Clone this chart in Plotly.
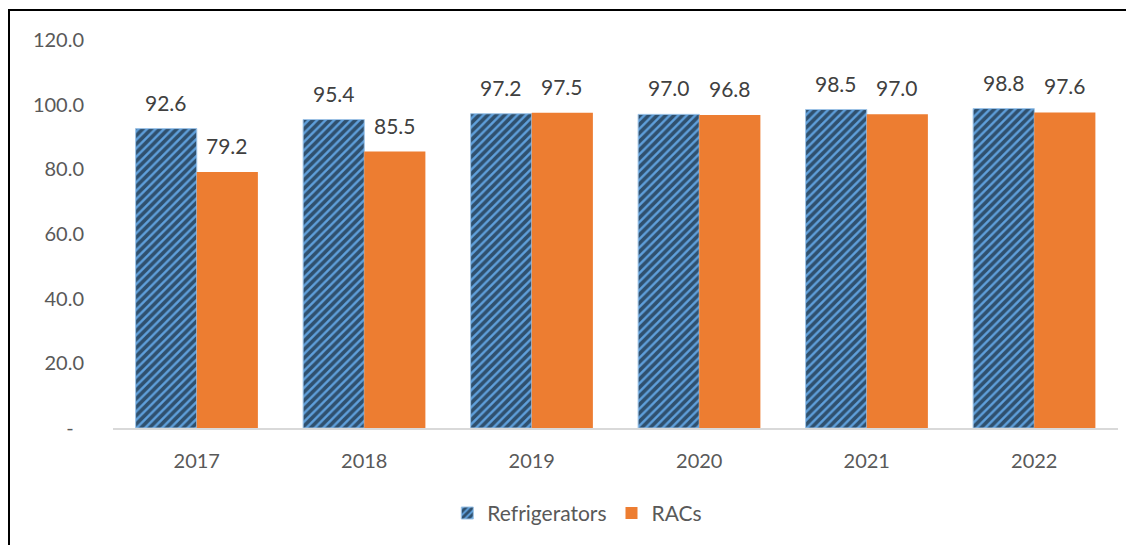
import plotly.graph_objects as go

years = ["2017", "2018", "2019", "2020", "2021", "2022"]
refrigerators = [92.6, 95.4, 97.2, 97.0, 98.5, 98.8]
racs = [79.2, 85.5, 97.5, 96.8, 97.0, 97.6]
tick_vals = [0, 20, 40, 60, 80, 100, 120]
tick_text = ["-\u00a0\u00a0", "20.0", "40.0", "60.0", "80.0", "100.0", "120.0"]

font_family = "Lato, Open Sans, sans-serif"
gray = "#595959"
label_color = "#404040"

L, T, PW, PH = 105, 32, 1005, 388
W, H = 1134, 545

fig = go.Figure()
fig.add_trace(go.Bar(
    x=years, y=refrigerators, name="Refrigerators",
    marker=dict(color="#5B9BD5",
                pattern=dict(shape="/", fgcolor="#000000", bgcolor="#5FA0DC",
                             size=6, solidity=0.6, fillmode="overlay"),
                line=dict(color="#9DC3E6", width=1)),
))
fig.add_trace(go.Bar(
    x=years, y=racs, name="RACs",
    marker=dict(color="#ED7D31", line=dict(width=0)),
))

bar_half = 30.6
annotations = []
for i, v in enumerate(refrigerators):
    annotations.append(dict(x=i, y=v, xref="x", yref="y", text=f"{v:.1f}", showarrow=False,
                            xshift=-bar_half, yshift=12, yanchor="bottom",
                            font=dict(size=21, color=label_color, family=font_family)))
for i, v in enumerate(racs):
    annotations.append(dict(x=i, y=v, xref="x", yref="y", text=f"{v:.1f}", showarrow=False,
                            xshift=bar_half, yshift=12, yanchor="bottom",
                            font=dict(size=21, color=label_color, family=font_family)))

fig.update_layout(
    width=W, height=H,
    margin=dict(l=L, r=W - L - PW, t=T, b=H - T - PH),
    paper_bgcolor="white", plot_bgcolor="white",
    barmode="group", bargap=0.27, bargroupgap=0,
    font=dict(family=font_family, color=gray, size=20),
    showlegend=True,
    legend=dict(orientation="h", x=0.462, xanchor="center", y=-0.22, yanchor="middle",
                font=dict(size=21, color=gray), traceorder="normal"),
    xaxis=dict(type="category", showline=True, linecolor="#D9D9D9", linewidth=1.5,
               ticks="outside", ticklen=14, tickcolor="rgba(0,0,0,0)",
               tickfont=dict(size=20, color=gray), showgrid=False),
    yaxis=dict(range=[0, 120], tickvals=tick_vals, ticktext=tick_text,
               showgrid=False, showline=False, zeroline=False, ticks="",
               tickfont=dict(size=20, color=gray), ticklabelstandoff=28),
    annotations=annotations,
    shapes=[dict(type="rect", xref="paper", yref="paper",
                 x0=(1 - L) / PW, x1=1.2, y0=-0.5, y1=(PH + T - 2) / PH,
                 line=dict(color="black", width=2), fillcolor="rgba(0,0,0,0)", layer="below")],
)

fig.write_html("out.html")
